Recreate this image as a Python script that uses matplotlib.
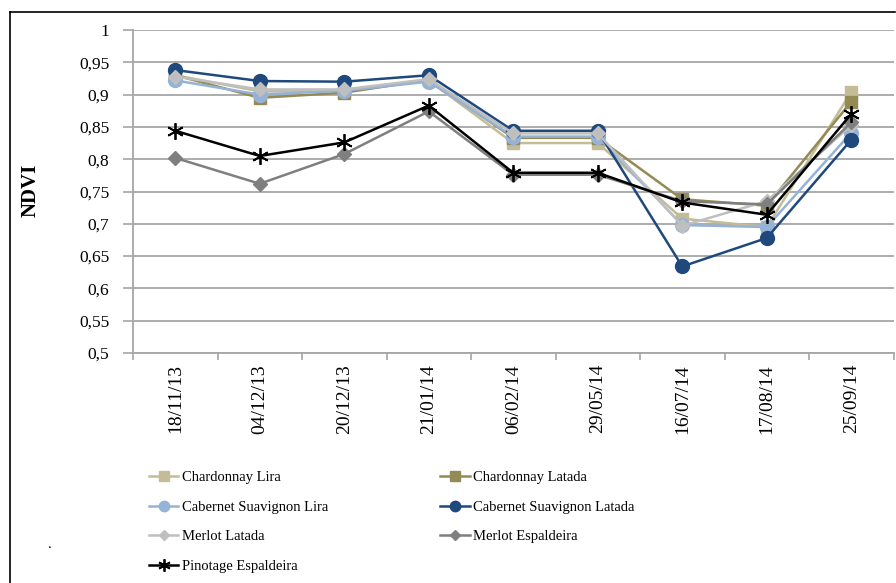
import matplotlib
matplotlib.use('Agg')
import matplotlib.pyplot as plt
import numpy as np
from matplotlib.lines import Line2D
from matplotlib.ticker import FuncFormatter, FixedLocator

plt.rcParams['font.family'] = ['Liberation Serif', 'DejaVu Serif']

# -------------------------- 数据 --------------------------
dates = ['18/11/13', '04/12/13', '20/12/13', '21/01/14', '06/02/14',
         '29/05/14', '16/07/14', '17/08/14', '25/09/14']

chardonnay_lira = [0.930, 0.905, 0.905, 0.922, 0.825, 0.825, 0.708, 0.695, 0.904]
chardonnay_latada = [0.930, 0.895, 0.903, 0.923, 0.833, 0.833, 0.738, 0.728, 0.889]
cabernet_lira = [0.922, 0.900, 0.906, 0.920, 0.835, 0.835, 0.698, 0.695, 0.841]
cabernet_latada = [0.938, 0.921, 0.920, 0.930, 0.844, 0.844, 0.634, 0.678, 0.830]
merlot_latada = [0.928, 0.908, 0.908, 0.924, 0.840, 0.840, 0.697, 0.735, 0.853]
merlot_espaldeira = [0.802, 0.762, 0.808, 0.874, 0.776, 0.776, 0.735, 0.730, 0.857]
pinotage_espaldeira = [0.844, 0.805, 0.826, 0.883, 0.779, 0.779, 0.733, 0.714, 0.870]

series = [
    ('Chardonnay Lira', chardonnay_lira, '#C4BC96', 's', 9),
    ('Chardonnay Latada', chardonnay_latada, '#948A54', 's', 9),
    ('Cabernet Suavignon Lira', cabernet_lira, '#95B3D7', 'o', 10),
    ('Cabernet Suavignon Latada', cabernet_latada, '#1F497D', 'o', 10),
    ('Merlot Latada', merlot_latada, '#BFBFBF', 'D', 7),
    ('Merlot Espaldeira', merlot_espaldeira, '#7F7F7F', 'D', 7),
    ('Pinotage Espaldeira', pinotage_espaldeira, '#000000', (6, 2, 0), 12),
]

# -------------------------- 绘图 --------------------------
W, H = 896, 583
fig = plt.figure(figsize=(W / 100, H / 100), dpi=100)
ax = fig.add_axes([133 / W, 1 - 353 / H, (893.5 - 133) / W, (353 - 30) / H])

x = np.arange(len(dates))
handles = []
for name, vals, color, marker, ms in series:
    h, = ax.plot(x, vals, color=color, marker=marker, markersize=ms, linewidth=1.8,
                 markeredgecolor=color, markeredgewidth=1.3 if marker == (6, 2, 0) else 1,
                 label=name, clip_on=False)
    handles.append(h)

ax.set_xlim(-0.5, len(dates) - 0.5)
ax.set_ylim(0.5, 1.0)
ax.set_yticks(np.arange(0.5, 1.0001, 0.05))
ax.yaxis.set_major_formatter(FuncFormatter(lambda v, p: f'{v:.2f}'.rstrip('0').rstrip('.').replace('.', ',')))
ax.grid(axis='y', color='#A6A6A6', linewidth=1.3)
ax.set_axisbelow(True)

ax.set_xticks(x)
ax.set_xticklabels(dates, rotation=90, fontsize=14)
ax.xaxis.set_minor_locator(FixedLocator(np.arange(-0.5, len(dates), 1.0)))
ax.tick_params(axis='x', which='major', length=0, pad=8)
ax.tick_params(axis='x', which='minor', length=5, color='#A6A6A6', width=1.2)
ax.tick_params(axis='y', length=7, color='#A6A6A6', width=1.2, labelsize=12.5, pad=10)

for s in ['top', 'right']:
    ax.spines[s].set_visible(False)
for s in ['left', 'bottom']:
    ax.spines[s].set_color('#A6A6A6')
    ax.spines[s].set_linewidth(1.3)

fig.text(31 / W, 1 - 190 / H, 'NDVI', rotation=90, fontsize=15, fontweight='bold',
         ha='center', va='center')

# 图例：按行排列
order = [0, 2, 4, 6, 1, 3, 5]
fig.legend([handles[i] for i in order], [series[i][0] for i in order],
           loc='upper left', bbox_to_anchor=(149 / W, 1 - 471 / H), ncol=2,
           frameon=False, fontsize=10.5, handlelength=2.0, handletextpad=0.25,
           columnspacing=7.7, labelspacing=1.12, borderaxespad=0, borderpad=0,
           markerscale=0.75)

fig.text(50 / W, 1 - 545 / H, '.', fontsize=11, ha='center', va='center')

# 外框
fig.add_artist(Line2D([10 / W, 10 / W], [0, 1 - 12 / H], color='black', linewidth=1.2))
fig.add_artist(Line2D([10 / W, 895 / W], [1 - 12 / H, 1 - 12 / H], color='black', linewidth=1.2))

fig.savefig('out.png', dpi=100)
